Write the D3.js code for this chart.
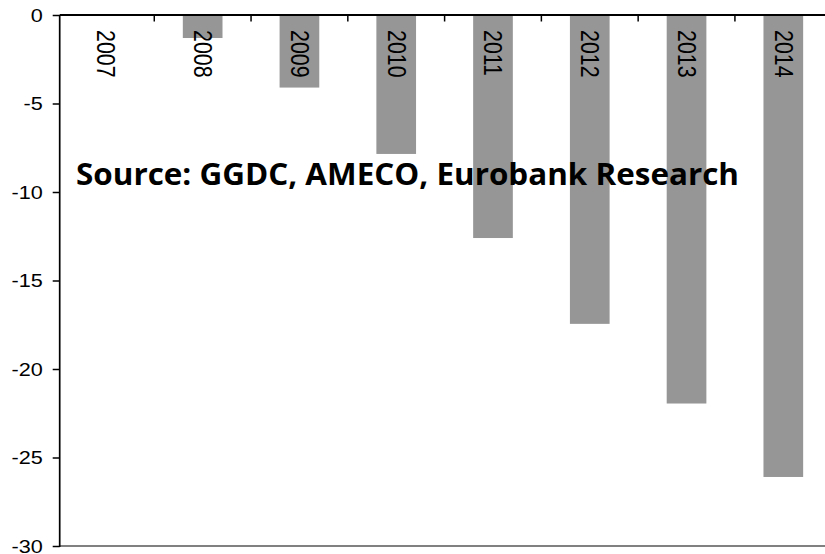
<!DOCTYPE html>
<html>
<head>
<meta charset="utf-8">
<script src="https://cdn.jsdelivr.net/npm/d3@7"></script>
<style>
  html, body { margin: 0; padding: 0; background: #fff; }
  svg { display: block; }
</style>
</head>
<body>
<svg id="chart" width="825" height="554"></svg>
<script>
// Cumulative change, percent
const years = ["2007", "2008", "2009", "2010", "2011", "2012", "2013", "2014"];
const values = [0, -1.3, -4.1, -7.85, -12.6, -17.45, -21.95, -26.1];
const yTicks = [0, -5, -10, -15, -20, -25, -30];
const sourceNote = "Source: GGDC, AMECO, Eurobank Research";

const svg = d3.select("#chart");
const W = 825;

const axisX = 59.7;
const x = d3.scaleBand().domain(years).range([57.5, 831.7]).paddingInner(0.59).paddingOuter(0.295);
const xOuter = d3.scaleBand().domain(years).range([57.5, 831.7]);
const y = d3.scaleLinear().domain([-30, 0]).range([546, 15]);

// Bars
svg.append("g")
  .selectAll("rect")
  .data(years.map((yr, i) => ({ yr, v: values[i] })))
  .join("rect")
  .attr("x", d => x(d.yr))
  .attr("width", x.bandwidth())
  .attr("y", d => y(0))
  .attr("height", d => y(d.v) - y(0))
  .attr("fill", "#969696");

// Source note
svg.append("text")
  .attr("x", 76)
  .attr("y", 185)
  .attr("font-family", "'Open Sans', 'Noto Sans', sans-serif")
  .attr("font-weight", "bold")
  .attr("font-size", 29.5)
  .attr("textLength", 663)
  .attr("lengthAdjust", "spacingAndGlyphs")
  .attr("fill", "#000")
  .text(sourceNote);

// Bottom border line at -30
svg.append("line")
  .attr("x1", axisX).attr("x2", W)
  .attr("y1", y(-30)).attr("y2", y(-30))
  .attr("stroke", "#808080").attr("stroke-width", 1.8);

// Y axis
const yAxis = svg.append("g")
  .attr("transform", `translate(${axisX},0)`)
  .call(d3.axisLeft(y).tickValues(yTicks).tickSize(7).tickPadding(0).tickFormat(d => String(d)));
yAxis.select(".domain").remove();
yAxis.selectAll(".tick line").attr("stroke", "#000").attr("stroke-width", 1.5);
yAxis.selectAll(".tick text")
  .attr("x", 0).attr("dy", null)
  .attr("transform", "translate(-17,0) scale(1.17,1)")
  .attr("dominant-baseline", "central")
  .attr("font-family", "'Liberation Sans', Arial, sans-serif")
  .attr("font-size", 18.5)
  .attr("fill", "#000");
svg.append("line")
  .attr("x1", axisX).attr("x2", axisX)
  .attr("y1", y(0)).attr("y2", y(-30) + 1)
  .attr("stroke", "#000").attr("stroke-width", 1.7);

// Category axis along zero
svg.append("line")
  .attr("x1", axisX).attr("x2", W)
  .attr("y1", y(0)).attr("y2", y(0))
  .attr("stroke", "#000").attr("stroke-width", 2);
svg.append("g")
  .selectAll("line")
  .data(years.slice(1))
  .join("line")
  .attr("x1", d => xOuter(d)).attr("x2", d => xOuter(d))
  .attr("y1", y(0)).attr("y2", y(0) + 6.5)
  .attr("stroke", "#000").attr("stroke-width", 1.5);

// Year labels, rotated
svg.append("g")
  .selectAll("text")
  .data(years)
  .join("text")
  .attr("transform", d => `translate(${x(d) + x.bandwidth() / 2},30) scale(1.2,1) rotate(90)`)
  .attr("dominant-baseline", "central")
  .attr("font-family", "'Liberation Sans', Arial, sans-serif")
  .attr("font-size", 21.4)
  .attr("fill", "#000")
  .text(d => d);
</script>
</body>
</html>
